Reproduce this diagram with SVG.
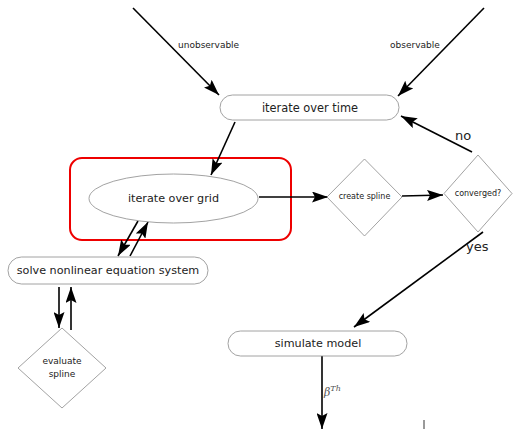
<svg xmlns="http://www.w3.org/2000/svg" width="513" height="429" viewBox="0 0 513 429">
  <defs>
    <marker id="head" viewBox="0 0 16 11" refX="16" refY="5.5" markerWidth="16" markerHeight="11" markerUnits="userSpaceOnUse" orient="auto">
      <path d="M0,0 L16,5.5 L0,11 L3,5.5 Z" fill="#000"/>
    </marker>
  </defs>
  <style>
    .node { fill: #fff; stroke: #8a8a8a; stroke-width: 0.8; }
    .lbl { font-family: "DejaVu Sans", "Liberation Sans", sans-serif; fill: #222; text-anchor: middle; dominant-baseline: central; }
    .edge { stroke: #000; stroke-width: 1.6; fill: none; marker-end: url(#head); }
    .elbl { font-family: "DejaVu Sans", "Liberation Sans", sans-serif; fill: #222; }
  </style>
  <rect width="513" height="429" fill="#fff"/>

  <!-- highlight frame around the grid loop -->
  <rect id="grid-frame" x="70" y="158" width="221" height="82" rx="12" ry="12" fill="none" stroke="#ee0000" stroke-width="2"/>

  <g id="connectors">
    <line class="edge" x1="133" y1="8" x2="219" y2="95"/>
    <line class="edge" x1="484" y1="8" x2="398" y2="96"/>
    <line class="edge" x1="235" y1="122" x2="211" y2="175"/>
    <line class="edge" x1="259" y1="197" x2="328" y2="197"/>
    <line class="edge" x1="402" y1="196" x2="443" y2="195"/>
    <line class="edge" x1="472" y1="152" x2="401" y2="116"/>
    <line class="edge" x1="483" y1="232" x2="354" y2="327"/>
    <line class="edge" x1="322" y1="356" x2="322" y2="429"/>
    <line class="edge" x1="138" y1="221" x2="118" y2="256"/>
    <line class="edge" x1="130" y1="256" x2="148" y2="222"/>
    <line class="edge" x1="59" y1="287" x2="59" y2="328"/>
    <line class="edge" x1="71" y1="330" x2="71" y2="287"/>
    <line x1="424" y1="420" x2="424" y2="429" stroke="#000" stroke-width="0.8"/>
    <text class="elbl" x="178" y="48" font-size="9">unobservable</text>
    <text class="elbl" x="390" y="48" font-size="9">observable</text>
    <text class="elbl" x="455" y="140" font-size="13">no</text>
    <text class="elbl" x="466" y="251" font-size="13">yes</text>
    <text x="324" y="396" font-family="DejaVu Serif, Liberation Serif, serif" font-style="italic" font-size="11" fill="#555">β<tspan dy="-5" font-size="8">Th</tspan></text>
  </g>

  <g id="iterate-time">
    <rect class="node" x="220" y="95" width="179" height="25" rx="12.5" ry="12.5"/>
    <text class="lbl" x="310" y="107.5" font-size="11.4">iterate over time</text>
  </g>

  <g id="iterate-grid">
    <ellipse class="node" cx="173.5" cy="198.5" rx="84.5" ry="24.5"/>
    <text class="lbl" x="173.5" y="198" font-size="11.2">iterate over grid</text>
  </g>

  <g id="create-spline">
    <polygon class="node" points="364.5,159 402,197 364.5,236 327,197"/>
    <text class="lbl" x="364.5" y="196" font-size="8">create spline</text>
  </g>

  <g id="converged">
    <polygon class="node" points="478,155 512,193.5 478,232 444,193.5"/>
    <text class="lbl" x="478" y="193" font-size="8">converged?</text>
  </g>

  <g id="solve-system">
    <rect class="node" x="8" y="257" width="200" height="27" rx="13.5" ry="13.5"/>
    <text class="lbl" x="108" y="270" font-size="11.2">solve nonlinear equation system</text>
  </g>

  <g id="evaluate-spline">
    <polygon class="node" points="62,328 106,368 62,408 18,368"/>
    <text class="lbl" x="62" y="361" font-size="9">evaluate</text>
    <text class="lbl" x="62" y="374" font-size="9">spline</text>
  </g>

  <g id="simulate-model">
    <rect class="node" x="228" y="331" width="179" height="25" rx="12.5" ry="12.5"/>
    <text class="lbl" x="318" y="343.5" font-size="11.2">simulate model</text>
  </g>
</svg>
